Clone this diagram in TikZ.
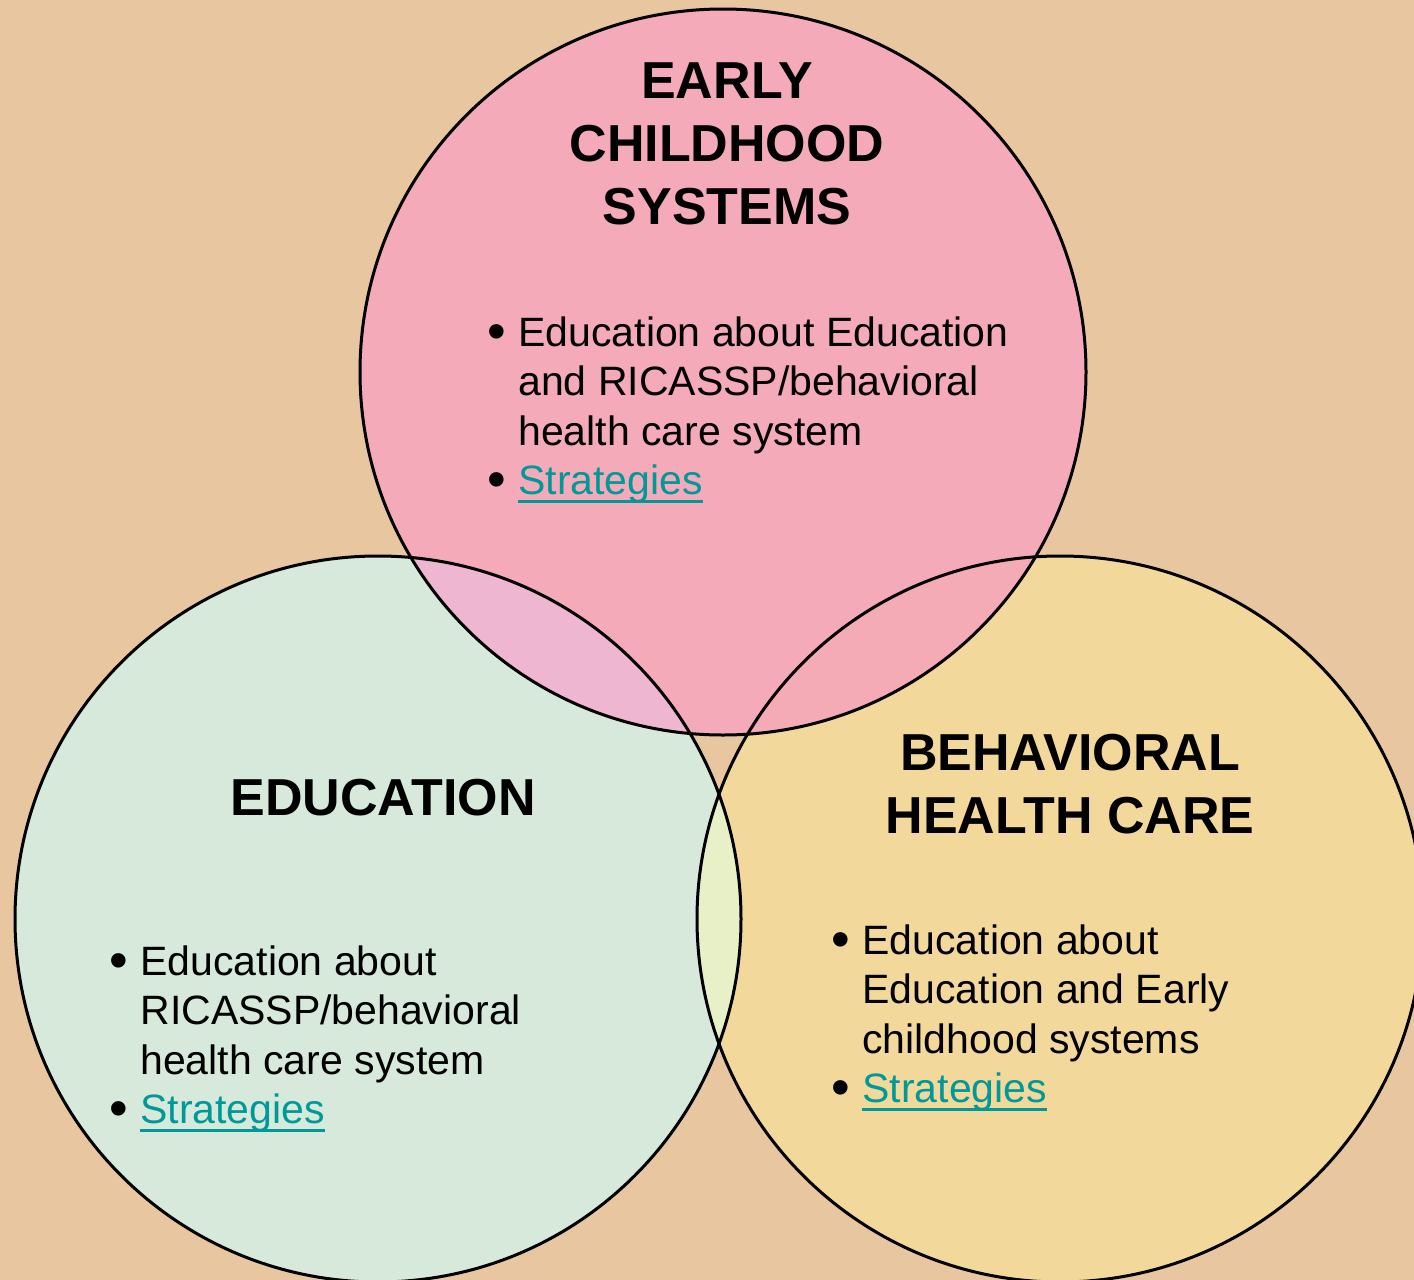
\documentclass[tikz,border=0pt]{standalone}
\usepackage{fontspec}
\setmainfont{Liberation Sans}
\usetikzlibrary{positioning}
\definecolor{bgtan}{RGB}{232,198,160}
\definecolor{ecspink}{RGB}{244,170,185}
\definecolor{edugreen}{RGB}{214,233,219}
\definecolor{bhcyellow}{RGB}{242,217,155}
\definecolor{pinkgreen}{RGB}{238,182,208}
\definecolor{pinkyellow}{RGB}{244,171,182}
\definecolor{greenyellow}{RGB}{232,240,200}
\definecolor{linkteal}{RGB}{0,153,153}
\newcommand{\strategies}{\textcolor{linkteal}{\setbox0\hbox{Strategies}\rlap{\vrule width\wd0 height -2.5pt depth 4pt}\box0}}
\newcommand{\bul}{\llap{\makebox[15.5pt][l]{\raisebox{-1.6pt}{\scalebox{1.3}{\textbullet}}}}}

\begin{document}
\begin{tikzpicture}[x=0.5pt,y=-0.5pt,
    heading/.style={font=\bfseries\fontsize{26}{31.5}\selectfont,align=center,inner sep=0pt,anchor=base},
    bullets/.style={font=\fontsize{20.5}{24.75}\selectfont,align=left,inner sep=0pt,anchor=base west}]
    % background
    \useasboundingbox (0,0) rectangle (1414,1280);
    \fill[bgtan] (0,0) rectangle (1414,1280);
    \clip (0,0) rectangle (1414,1280);
    % circle centres
    \coordinate (ecs) at (723,372);
    \coordinate (edu) at (378,919);
    \coordinate (bhc) at (1060,919);
    % discs
    \fill[ecspink] (ecs) circle[radius=363];
    \fill[edugreen] (edu) circle[radius=363];
    \fill[bhcyellow] (bhc) circle[radius=363];
    % overlaps
    \begin{scope}
      \clip (ecs) circle[radius=363];
      \fill[pinkgreen] (edu) circle[radius=363];
      \fill[pinkyellow] (bhc) circle[radius=363];
    \end{scope}
    \begin{scope}
      \clip (edu) circle[radius=363];
      \fill[greenyellow] (bhc) circle[radius=363];
    \end{scope}
    % outlines
    \foreach \c in {ecs,edu,bhc}{
      \draw[line width=1.5pt] (\c) circle[radius=363];
    }
    % headings (base = last line)
    \node[heading] (ecsTitle) at (727,224) {EARLY\\CHILDHOOD\\SYSTEMS};
    \node[heading] (eduTitle) at (383,815) {EDUCATION};
    \node[heading] (bhcTitle) at (1070,833) {BEHAVIORAL\\HEALTH CARE};
    % bullet lists (base = last line)
    \node[bullets] (ecsList) at (518,494.5) {\bul Education about Education\\and RICASSP/behavioral\\health care system\\\bul\strategies};
    \node[bullets] (eduList) at (140,1123.5) {\bul Education about\\RICASSP/behavioral\\health care system\\\bul\strategies};
    \node[bullets] (bhcList) at (862,1102.5) {\bul Education about\\Education and Early\\childhood systems\\\bul\strategies};
  \end{tikzpicture}
\end{document}
